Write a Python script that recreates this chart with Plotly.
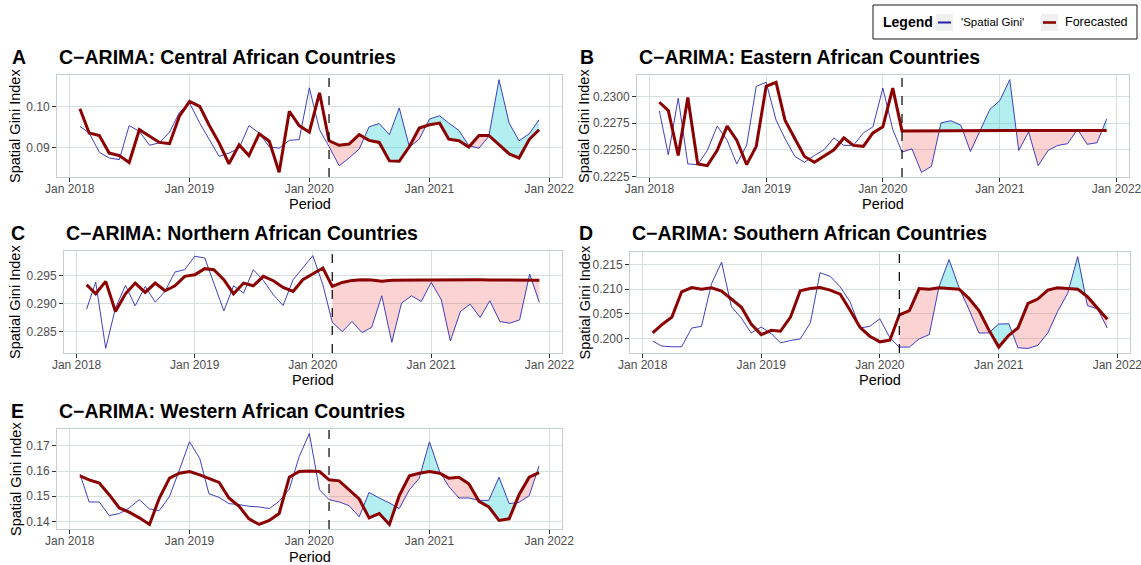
import numpy as np
import pandas as pd
import plotly.graph_objects as go

# ---------------- data ----------------
months = pd.date_range("2018-02-01", "2021-12-01", freq="MS")
forecast_start = pd.Timestamp("2020-03-01")
year_ticks = ["2018-01-01", "2019-01-01", "2020-01-01", "2021-01-01", "2022-01-01"]

central_actual = [0.0951, 0.0935, 0.0888, 0.0874, 0.0870, 0.0953, 0.0939, 0.0905, 0.0911, 0.0937,
                  0.0985, 0.1008, 0.0959, 0.0919, 0.0878, 0.0886, 0.0898, 0.0953, 0.0935, 0.0901,
                  0.0898, 0.0917, 0.0919, 0.1045, 0.0943, 0.0902, 0.0855, 0.0874, 0.0896, 0.0950,
                  0.0958, 0.0931, 0.0996, 0.0901, 0.0920, 0.0969, 0.0977, 0.0959, 0.0941, 0.0904,
                  0.0898, 0.0927, 0.1065, 0.0959, 0.0916, 0.0933, 0.0967]
central_forecast = [0.0994, 0.0935, 0.0929, 0.0886, 0.0880, 0.0863, 0.0943, 0.0927, 0.0912, 0.0909,
                    0.0976, 0.1012, 0.1000, 0.0955, 0.0911, 0.0860, 0.0906, 0.0880, 0.0933, 0.0915,
                    0.0839, 0.0988, 0.0953, 0.0937, 0.1033, 0.0916, 0.0905, 0.0908, 0.0931, 0.0917,
                    0.0912, 0.0867, 0.0866, 0.0902, 0.0947, 0.0955, 0.0959, 0.0920, 0.0916, 0.0901,
                    0.0929, 0.0929, 0.0907, 0.0884, 0.0874, 0.0919, 0.0943]

eastern_actual = [0.22864, 0.22453, 0.22984, 0.22367, 0.22361, 0.22494, 0.22722, 0.22589, 0.22367, 0.22541,
                  0.23095, 0.23133, 0.22778, 0.22604, 0.22437, 0.22383, 0.22446, 0.22500, 0.22611, 0.22541,
                  0.22541, 0.22658, 0.22715, 0.23079, 0.22690, 0.22478, 0.22509, 0.22288, 0.22345, 0.22753,
                  0.22772, 0.22731, 0.22484, 0.22677, 0.22880, 0.22962, 0.23158, 0.22494, 0.22668, 0.22351,
                  0.22494, 0.22541, 0.22557, 0.22693, 0.22551, 0.22566, 0.22788]
eastern_forecast = [0.22946, 0.22867, 0.22446, 0.22991, 0.22367, 0.22351, 0.22494, 0.22722, 0.22589, 0.22361,
                    0.22532, 0.23095, 0.23133, 0.22778, 0.22604, 0.22437, 0.22383, 0.22437, 0.22500, 0.22611,
                    0.22541, 0.22532, 0.22658, 0.22715, 0.23079, 0.22677, 0.22678, 0.22679, 0.22679, 0.22680,
                    0.22680, 0.22680, 0.22680, 0.22680, 0.22680, 0.22680, 0.22681, 0.22681, 0.22681, 0.22681,
                    0.22681, 0.22681, 0.22681, 0.22681, 0.22681, 0.22681, 0.22681]

northern_actual = [0.28901, 0.29386, 0.28200, 0.28919, 0.29326, 0.28961, 0.29308, 0.29027, 0.29219, 0.29566,
                   0.29608, 0.29847, 0.29817, 0.29380, 0.28871, 0.29320, 0.29189, 0.29608, 0.29416, 0.29159,
                   0.28967, 0.29428, 0.29638, 0.29859, 0.29338, 0.28668, 0.28500, 0.28680, 0.28482, 0.28578,
                   0.29141, 0.28308, 0.29009, 0.29141, 0.29039, 0.29380, 0.29069, 0.28332, 0.28859, 0.28991,
                   0.28752, 0.29051, 0.28680, 0.28650, 0.28710, 0.29530, 0.29021]
northern_forecast = [0.29338, 0.29177, 0.29398, 0.28859, 0.29177, 0.29368, 0.29201, 0.29368, 0.29231, 0.29320,
                     0.29488, 0.29518, 0.29626, 0.29608, 0.29428, 0.29177, 0.29368, 0.29320, 0.29488, 0.29410,
                     0.29290, 0.29219, 0.29428, 0.29530, 0.29638, 0.29308, 0.29380, 0.29416, 0.29428, 0.29425,
                     0.29400, 0.29420, 0.29425, 0.29425, 0.29425, 0.29425, 0.29428, 0.29428, 0.29430, 0.29430,
                     0.29428, 0.29425, 0.29425, 0.29428, 0.29425, 0.29422, 0.29420]

southern_actual = [0.19947, 0.19847, 0.19833, 0.19833, 0.20213, 0.20247, 0.21113, 0.21547, 0.20647, 0.20413,
                   0.20113, 0.20233, 0.20100, 0.19913, 0.19960, 0.19993, 0.20313, 0.21333, 0.21260, 0.21047,
                   0.20747, 0.20213, 0.20247, 0.20400, 0.20013, 0.19827, 0.19827, 0.19993, 0.20080, 0.21047,
                   0.21600, 0.21027, 0.20593, 0.20113, 0.20113, 0.20293, 0.20300, 0.19813, 0.19800, 0.19860,
                   0.20113, 0.20547, 0.20913, 0.21660, 0.20667, 0.20600, 0.20213]
southern_forecast = [0.20113, 0.20280, 0.20433, 0.20947, 0.21033, 0.21000, 0.21027, 0.20960, 0.20800, 0.20633,
                     0.20293, 0.20080, 0.20167, 0.20147, 0.20433, 0.20967, 0.21013, 0.21033, 0.20980, 0.20900,
                     0.20580, 0.20227, 0.20047, 0.19933, 0.19967, 0.20480, 0.20567, 0.21013, 0.21000, 0.21027,
                     0.21013, 0.21000, 0.20813, 0.20567, 0.20180, 0.19827, 0.20067, 0.20213, 0.20713, 0.20800,
                     0.20980, 0.21027, 0.21013, 0.21000, 0.20847, 0.20627, 0.20393]

western_actual = [0.15886, 0.14773, 0.14773, 0.14236, 0.14314, 0.14537, 0.14865, 0.14498, 0.14432, 0.14996,
                  0.16044, 0.17157, 0.16502, 0.15100, 0.14956, 0.14707, 0.14668, 0.14603, 0.14576, 0.14511,
                  0.14799, 0.15284, 0.16568, 0.17485, 0.15258, 0.14865, 0.14773, 0.14629, 0.14183, 0.15153,
                  0.14930, 0.14734, 0.14511, 0.15258, 0.15716, 0.17157, 0.15978, 0.15389, 0.14930, 0.14930,
                  0.14838, 0.14838, 0.15755, 0.14707, 0.14760, 0.15022, 0.16201]
western_forecast = [0.15808, 0.15651, 0.15520, 0.15061, 0.14537, 0.14367, 0.14144, 0.13882, 0.14930, 0.15716,
                    0.15913, 0.15978, 0.15847, 0.15716, 0.15546, 0.14930, 0.14603, 0.14105, 0.13882, 0.14039,
                    0.14314, 0.15755, 0.15978, 0.16004, 0.15978, 0.15651, 0.15611, 0.15258, 0.14891, 0.14144,
                    0.14314, 0.13882, 0.15022, 0.15808, 0.15913, 0.15978, 0.15913, 0.15716, 0.15755, 0.15493,
                    0.14799, 0.14576, 0.14039, 0.14105, 0.15061, 0.15755, 0.15939]

tags = ["A", "B", "C", "D", "E"]
titles = ["C\u2212ARIMA: Central African Countries", "C\u2212ARIMA: Eastern African Countries",
          "C\u2212ARIMA: Northern African Countries", "C\u2212ARIMA: Southern African Countries",
          "C\u2212ARIMA: Western African Countries"]
actuals = [central_actual, eastern_actual, northern_actual, southern_actual, western_actual]
forecasts = [central_forecast, eastern_forecast, northern_forecast, southern_forecast, western_forecast]
y_ticks = [[0.09, 0.10], [0.2225, 0.2250, 0.2275, 0.2300], [0.285, 0.290, 0.295],
           [0.200, 0.205, 0.210, 0.215], [0.14, 0.15, 0.16, 0.17]]
y_formats = [".2f", ".4f", ".3f", ".3f", ".2f"]
legend_title = "Legend"
series_names = ["'Spatial Gini'", "Forecasted"]

# ---------------- layout geometry (pixels) ----------------
W, H = 1141, 565
# panel boxes: left, right, top, bottom
boxes = [(57, 562, 75, 177), (637, 1129, 75, 177), (64, 562, 251, 353),
         (630, 1130, 252, 353), (57, 562, 429, 529)]
tag_x = [10, 578, 9, 577, 9]
title_y = [57, 57, 233, 233, 411]
period_y = [204, 204, 380, 380, 557]
ytitle_x = [15, 584, 15, 584, 16]

FONT = "Liberation Sans, Arial, sans-serif"
BLUE = "#2A2AB8"
RED = "#8B0000"
PINK = "rgba(240, 70, 70, 0.24)"
CYAN = "rgba(20, 205, 210, 0.32)"
GRID = "#D8DFDF"
BORDER = "#C6CFCF"


def px(x):
    return x / W


def py(y):
    return 1 - y / H


def fill_polygons(dates, act, fc, start):
    t = np.array([d.value / 1e6 for d in dates])  # ms
    a = np.array(act, dtype=float)
    f = np.array(fc, dtype=float)
    idx = [i for i in range(len(dates)) if dates[i] >= start]
    pts = []  # (t, forecast, actual, is_cross)
    for k, i in enumerate(idx):
        pts.append((t[i], f[i], a[i], False))
        if k + 1 < len(idx):
            j = idx[k + 1]
            di, dj = a[i] - f[i], a[j] - f[j]
            if di * dj < 0:
                fr = di / (di - dj)
                tc = t[i] + fr * (t[j] - t[i])
                yc = f[i] + fr * (f[j] - f[i])
                pts.append((tc, yc, yc, True))
    runs, cur = [], [pts[0]]
    for p in pts[1:]:
        cur.append(p)
        if p[3]:
            runs.append(cur)
            cur = [p]
    runs.append(cur)
    out = {"pos": ([], []), "neg": ([], [])}
    for r in runs:
        s = sum(p[2] - p[1] for p in r)
        key = "pos" if s > 0 else "neg"
        xs = [p[0] for p in r] + [p[0] for p in reversed(r)]
        ys = [p[1] for p in r] + [p[2] for p in reversed(r)]
        xs = [pd.to_datetime(v, unit="ms").strftime("%Y-%m-%d %H:%M:%S") for v in xs]
        out[key][0].extend(xs + [None])
        out[key][1].extend(ys + [None])
    return out


fig = go.Figure()
annotations = []
shapes = []
layout = {}

span = months[-1] - months[0]
x_range = [(months[0] - 0.05 * span).strftime("%Y-%m-%d %H:%M"),
           (months[-1] + 0.05 * span).strftime("%Y-%m-%d %H:%M")]

for i in range(5):
    n = i + 1
    xa = "x" if n == 1 else f"x{n}"
    ya = "y" if n == 1 else f"y{n}"
    act, fc = actuals[i], forecasts[i]
    polys = fill_polygons(months, act, fc, forecast_start)
    fig.add_trace(go.Scatter(x=polys["neg"][0], y=polys["neg"][1], mode="none", fill="toself",
                             fillcolor=PINK, hoverinfo="skip", showlegend=False, xaxis=xa, yaxis=ya))
    fig.add_trace(go.Scatter(x=polys["pos"][0], y=polys["pos"][1], mode="none", fill="toself",
                             fillcolor=CYAN, hoverinfo="skip", showlegend=False, xaxis=xa, yaxis=ya))
    fig.add_trace(go.Scatter(x=months, y=act, mode="lines", line=dict(color=BLUE, width=0.9),
                             name=series_names[0], showlegend=False, xaxis=xa, yaxis=ya))
    fig.add_trace(go.Scatter(x=months, y=fc, mode="lines", line=dict(color=RED, width=3),
                             name=series_names[1], showlegend=False, xaxis=xa, yaxis=ya))

    lo = min(min(act), min(fc))
    hi = max(max(act), max(fc))
    pad = 0.05 * (hi - lo)
    l, r, t, b = boxes[i]
    axis_common = dict(showgrid=True, gridcolor=GRID, gridwidth=1, showline=True, linecolor=BORDER,
                       linewidth=1, mirror=True, ticks="outside", ticklen=4, tickcolor="#333333",
                       tickwidth=1, zeroline=False, automargin=False, ticklabeloverflow="allow",
                       tickfont=dict(family=FONT, size=12, color="#4D4D4D"))
    layout["xaxis" if n == 1 else f"xaxis{n}"] = dict(
        domain=[px(l), px(r)], anchor=ya, type="date", range=x_range, tickmode="array",
        tickvals=year_ticks, tickformat="%b %Y", ticklabelstandoff=-3, **axis_common)
    layout["yaxis" if n == 1 else f"yaxis{n}"] = dict(
        domain=[py(b), py(t)], anchor=xa, range=[lo - pad, hi + pad], tickmode="array",
        tickvals=y_ticks[i], tickformat=y_formats[i], **axis_common)

    shapes.append(dict(type="line", xref=xa, yref=f"{ya} domain", x0=forecast_start, x1=forecast_start,
                       y0=0, y1=1, line=dict(color="black", width=1.2, dash="dash"), layer="above"))

    annotations.append(dict(text=f"<b>{tags[i]}</b>", x=px(tag_x[i]), y=py(title_y[i]), xref="paper",
                            yref="paper", xanchor="left", yanchor="middle", showarrow=False,
                            font=dict(family=FONT, size=19.5, color="black")))
    annotations.append(dict(text=f"<b>{titles[i]}</b>", x=px(l), y=py(title_y[i]), xref="paper",
                            yref="paper", xanchor="left", yanchor="middle", showarrow=False,
                            font=dict(family=FONT, size=19.5, color="black")))
    annotations.append(dict(text="Period", x=px((l + r) / 2), y=py(period_y[i]), xref="paper",
                            yref="paper", xanchor="center", yanchor="middle", showarrow=False,
                            font=dict(family=FONT, size=14.5, color="black")))
    annotations.append(dict(text="Spatial Gini Index", x=px(ytitle_x[i]), y=py((t + b) / 2), xref="paper",
                            yref="paper", xanchor="center", yanchor="middle", textangle=-90,
                            showarrow=False, font=dict(family=FONT, size=14.5, color="black")))

# ---------------- legend (drawn as a boxed key) ----------------
shapes.append(dict(type="rect", xref="paper", yref="paper", x0=px(873), x1=px(1137), y0=py(39), y1=py(5),
                   line=dict(color="#1A1A1A", width=1), fillcolor="white", layer="above"))
annotations.append(dict(text=f"<b>{legend_title}</b>", x=px(881), y=py(22), xref="paper", yref="paper",
                        xanchor="left", yanchor="middle", showarrow=False,
                        font=dict(family=FONT, size=14, color="black")))
key_specs = [(936, "#1F1FA8", 2.0, 959, 11.5), (1041, RED, 2.6, 1063, 12.5)]
for (kx, col, lw, tx, fs), name in zip(key_specs, series_names):
    shapes.append(dict(type="rect", xref="paper", yref="paper", x0=px(kx), x1=px(kx + 17), y0=py(31), y1=py(14),
                       line=dict(width=0), fillcolor="#EFEFEF", layer="above"))
    shapes.append(dict(type="line", xref="paper", yref="paper", x0=px(kx + 2), x1=px(kx + 15), y0=py(22.5),
                       y1=py(22.5), line=dict(color=col, width=lw), layer="above"))
    annotations.append(dict(text=name, x=px(tx), y=py(22), xref="paper", yref="paper",
                            xanchor="left", yanchor="middle", showarrow=False,
                            font=dict(family=FONT, size=fs, color="black")))

fig.update_layout(
    width=W, height=H, margin=dict(l=0, r=0, t=0, b=0), template="none",
    paper_bgcolor="white", plot_bgcolor="white", showlegend=False,
    font=dict(family=FONT, size=12, color="black"),
    annotations=annotations, shapes=shapes,
    **layout,
)

fig.write_html("out.html")
